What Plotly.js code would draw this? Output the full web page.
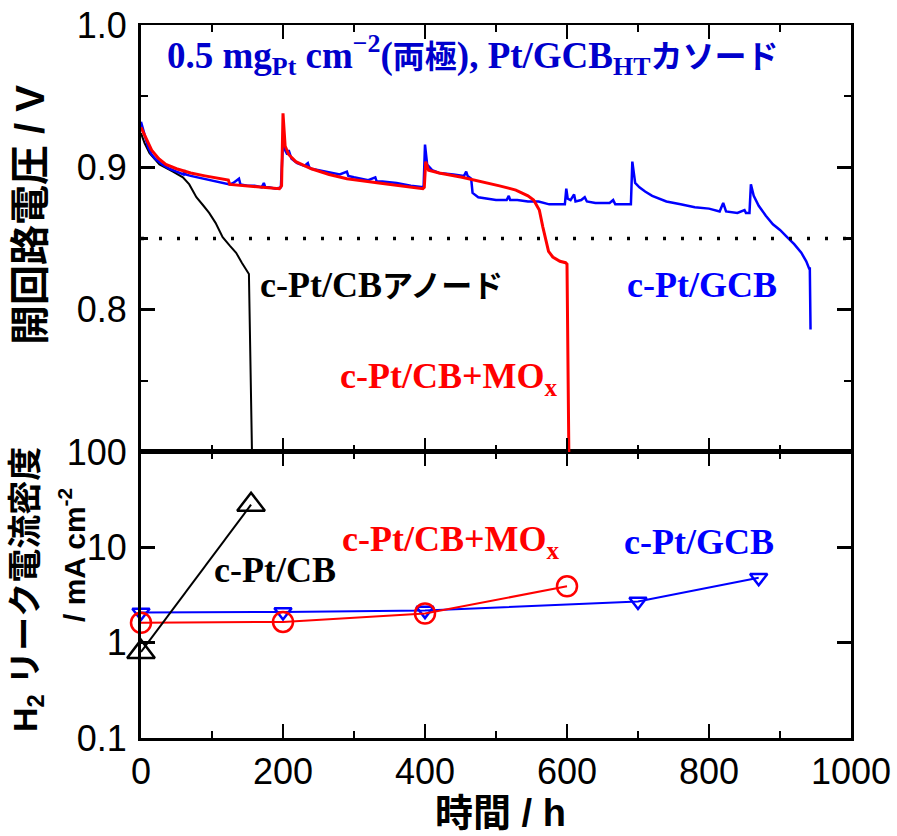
<!DOCTYPE html>
<html>
<head>
<meta charset="utf-8">
<script src="https://cdn.plot.ly/plotly-3.0.1.min.js"></script>
<style>html,body{margin:0;padding:0;background:#fff;}#chart{width:897px;height:836px;}</style>
</head>
<body>
<div id="chart"></div>
<script>
// ---- Open-circuit voltage (top panel) ----
const tGCB = [0,2,5,10,15,20,30,40,50,60,61,63,70,80,90,100,110,120,125,130,138,140,150,160,170,173,175,180,190,197,199,200,203,206,208,212,220,230,235,237,240,260,280,290,292,300,320,330,332,340,360,380,395,398,400,403,410,420,440,455,458,460,465,467,475,485,500,515,518,520,530,545,560,575,590,597,599,601,605,610,612,620,625,628,640,660,665,668,680,690,692,696,702,710,720,730,740,760,780,800,815,820,824,840,850,852,857,859,863,870,880,890,900,910,920,930,937,941,942,943];
const vGCB = [0.932,0.928,0.922,0.914,0.909,0.906,0.902,0.899,0.897,0.895,0.898,0.895,0.894,0.893,0.892,0.891,0.890,0.889,0.888,0.889,0.892,0.888,0.887,0.887,0.886,0.889,0.886,0.886,0.885,0.886,0.905,0.918,0.912,0.909,0.912,0.906,0.903,0.901,0.903,0.900,0.899,0.897,0.895,0.897,0.894,0.893,0.891,0.893,0.890,0.890,0.889,0.887,0.886,0.886,0.916,0.902,0.898,0.896,0.895,0.894,0.897,0.894,0.892,0.882,0.879,0.878,0.877,0.877,0.880,0.877,0.877,0.876,0.876,0.874,0.874,0.874,0.885,0.878,0.877,0.881,0.876,0.877,0.879,0.876,0.875,0.875,0.877,0.874,0.874,0.874,0.904,0.889,0.886,0.883,0.880,0.878,0.876,0.874,0.872,0.871,0.869,0.875,0.869,0.868,0.870,0.868,0.868,0.888,0.880,0.873,0.866,0.860,0.856,0.851,0.846,0.840,0.834,0.829,0.829,0.786];

const tMOx = [0,3,8,15,25,35,50,70,90,110,123,125,150,175,195,198,200,203,208,218,240,265,290,335,370,397,399,401,405,420,452,480,505,528,545,553,561,566,570,574,580,590,598,600,603];
const vMOx = [0.928,0.925,0.919,0.912,0.906,0.902,0.899,0.896,0.894,0.892,0.891,0.888,0.887,0.886,0.885,0.887,0.938,0.915,0.909,0.904,0.899,0.895,0.892,0.889,0.887,0.885,0.886,0.904,0.898,0.896,0.893,0.890,0.887,0.884,0.880,0.877,0.870,0.858,0.849,0.841,0.837,0.834,0.833,0.832,0.680];

const tCB = [0,5,12,26,45,59,68,78,88,96,105,115,125,134,142,150,152,157];
const vCB = [0.924,0.917,0.910,0.902,0.897,0.893,0.888,0.879,0.873,0.868,0.861,0.851,0.845,0.840,0.833,0.826,0.825,0.680];

const refLine = 0.85;

// ---- H2 leak current density (bottom panel) ----
const leakT_CB = [0,155];
const leakJ_CB = [0.8,28];
const leakT_GCB = [0,200,400,700,870];
const leakJ_GCB = [2.07,2.1,2.17,2.7,4.8];
const leakT_MOx = [0,200,400,600];
const leakJ_MOx = [1.62,1.65,2.02,3.9];

const xTicks = [0,200,400,600,800,1000];
const yTopTicks = [0.7,0.8,0.9,1.0];
const yTopLabels = ['', '0.8', '0.9', '1.0'];
const yBotTicks = [0.1,1,10,100];
const yBotLabels = ['0.1','1','10','100'];

// ---- layout helpers ----
const W = 897, H = 836, ML = 141, MR = 46, MT = 25, MB = 98;
const PW = W - ML - MR, PH = H - MT - MB;
const splitFrac = (738 - 452) / PH;
const px = x => (x - ML) / PW;
const py = y => (H - MB - y) / PH;

const SERIF = 'Liberation Serif, Times New Roman, Noto Sans CJK JP, serif';
const SANS = 'Liberation Sans, Arial, Noto Sans CJK JP, sans-serif';
const BLUE = '#0000ff', RED = '#ff0000';

const traces = [
  {x: tCB, y: vCB, xaxis: 'x2', yaxis: 'y2', mode: 'lines', line: {color: '#000', width: 2}, hoverinfo: 'skip'},
  {x: tGCB, y: vGCB, xaxis: 'x2', yaxis: 'y2', mode: 'lines', line: {color: BLUE, width: 2.5}, hoverinfo: 'skip'},
  {x: tMOx, y: vMOx, xaxis: 'x2', yaxis: 'y2', mode: 'lines', line: {color: RED, width: 3}, hoverinfo: 'skip'},
  {x: leakT_GCB, y: leakJ_GCB, xaxis: 'x', yaxis: 'y', mode: 'lines+markers', cliponaxis: false, line: {color: BLUE, width: 2},
   marker: {symbol: 'triangle-down-open', size: 15, color: BLUE, line: {width: 2.5, color: BLUE}}},
  {x: leakT_MOx, y: leakJ_MOx, xaxis: 'x', yaxis: 'y', mode: 'lines+markers', cliponaxis: false, line: {color: RED, width: 2},
   marker: {symbol: 'circle-open', size: 20, color: RED, line: {width: 2.5, color: RED}}},
  {x: leakT_CB, y: leakJ_CB, xaxis: 'x', yaxis: 'y', mode: 'lines+markers', cliponaxis: false, line: {color: '#000', width: 2},
   marker: {symbol: 'triangle-up-open', size: 24, color: '#000', line: {width: 2.5, color: '#000'}}}
];

const axCommon = {
  showline: true, linewidth: 3, linecolor: '#000', mirror: 'allticks',
  ticks: 'inside', ticklen: 14, tickwidth: 2.5, tickcolor: '#000',
  showgrid: false, zeroline: false,
  tickfont: {family: SANS, size: 36, color: '#000'}
};

const layout = {
  width: W, height: H,
  margin: {l: ML, r: MR, t: MT, b: MB, pad: 0},
  paper_bgcolor: '#fff', plot_bgcolor: '#fff',
  showlegend: false,
  xaxis: Object.assign({}, axCommon, {
    domain: [0, 1], anchor: 'y', range: [0, 1000], tickvals: xTicks, ticktext: xTicks.map(String),
    minor: {dtick: 100, tick0: 0, ticks: 'inside', ticklen: 7, tickwidth: 2.5, tickcolor: '#000'}
  }),
  xaxis2: Object.assign({}, axCommon, {
    domain: [0, 1], anchor: 'y2', matches: 'x', range: [0, 1000], tickvals: xTicks, showticklabels: false,
    linewidth: 2,
    minor: {dtick: 100, tick0: 0, ticks: 'inside', ticklen: 7, tickwidth: 2.5, tickcolor: '#000'}
  }),
  yaxis: Object.assign({}, axCommon, {
    domain: [0, splitFrac], anchor: 'x', type: 'log', range: [-1, 2],
    tickvals: yBotTicks, ticktext: yBotLabels, ticklabelstandoff: 4
  }),
  yaxis2: Object.assign({}, axCommon, {
    domain: [splitFrac, 1], anchor: 'x2', range: [0.7, 1.0],
    tickvals: yTopTicks, ticktext: yTopLabels, ticklabelstandoff: 4,
    minor: {tickvals: [0.75, 0.85, 0.95], ticks: 'inside', ticklen: 7, tickwidth: 2.5, tickcolor: '#000'}
  }),
  shapes: [
    {type: 'line', xref: 'x2', yref: 'y2', x0: 0, x1: 1000, y0: refLine, y1: refLine,
     line: {color: '#000', width: 3.5, dash: '3px,15px'}}
  ],
  annotations: [
    {xref: 'paper', yref: 'paper', x: px(165), y: py(55), xanchor: 'left', yanchor: 'middle', showarrow: false,
     text: "0.5 mg<sub>Pt</sub> cm<sup>−2</sup>(<span style='font-size:32px'>両極</span>), Pt/GCB<sub>HT</sub><span style='font-size:32px'>カソード</span>",
     font: {family: SERIF, size: 37, color: '#0000cc', weight: 'bold'}},
    {xref: 'paper', yref: 'paper', x: px(258), y: py(285), xanchor: 'left', yanchor: 'middle', showarrow: false,
     text: "c-Pt/CB<span style='font-size:31px'>アノード</span>",
     font: {family: SERIF, size: 36, color: '#000', weight: 'bold'}},
    {xref: 'paper', yref: 'paper', x: px(625), y: py(285), xanchor: 'left', yanchor: 'middle', showarrow: false,
     text: "c-Pt/GCB", font: {family: SERIF, size: 36, color: BLUE, weight: 'bold'}},
    {xref: 'paper', yref: 'paper', x: px(338), y: py(378), xanchor: 'left', yanchor: 'middle', showarrow: false,
     text: "c-Pt/CB+MO<sub>x</sub>", font: {family: SERIF, size: 36, color: RED, weight: 'bold'}},
    {xref: 'paper', yref: 'paper', x: px(212), y: py(570), xanchor: 'left', yanchor: 'middle', showarrow: false,
     text: "c-Pt/CB", font: {family: SERIF, size: 36, color: '#000', weight: 'bold'}},
    {xref: 'paper', yref: 'paper', x: px(340), y: py(541), xanchor: 'left', yanchor: 'middle', showarrow: false,
     text: "c-Pt/CB+MO<sub>x</sub>", font: {family: SERIF, size: 36, color: RED, weight: 'bold'}},
    {xref: 'paper', yref: 'paper', x: px(622), y: py(542), xanchor: 'left', yanchor: 'middle', showarrow: false,
     text: "c-Pt/GCB", font: {family: SERIF, size: 36, color: BLUE, weight: 'bold'}},
    {xref: 'paper', yref: 'paper', x: px(500), y: py(813), xanchor: 'center', yanchor: 'middle', showarrow: false,
     text: "時間 / h", font: {family: SANS, size: 38, color: '#000', weight: 'bold'}},
    {xref: 'paper', yref: 'paper', x: px(30), y: py(215), xanchor: 'center', yanchor: 'middle', showarrow: false,
     textangle: -90, text: "開回路電圧 / V", font: {family: SANS, size: 40, color: '#000', weight: 'bold'}},
    {xref: 'paper', yref: 'paper', x: px(27), y: py(590), xanchor: 'center', yanchor: 'middle', showarrow: false,
     textangle: -90, text: "H<sub>2</sub> リーク電流密度", font: {family: SANS, size: 34, color: '#000', weight: 'bold'}},
    {xref: 'paper', yref: 'paper', x: px(72), y: py(555), xanchor: 'center', yanchor: 'middle', showarrow: false,
     textangle: -90, text: "/ mA cm<sup>-2</sup>", font: {family: SANS, size: 30, color: '#000', weight: 'bold'}}
  ]
};

Plotly.newPlot('chart', traces, layout, {staticPlot: true, displayModeBar: false});
</script>
</body>
</html>
